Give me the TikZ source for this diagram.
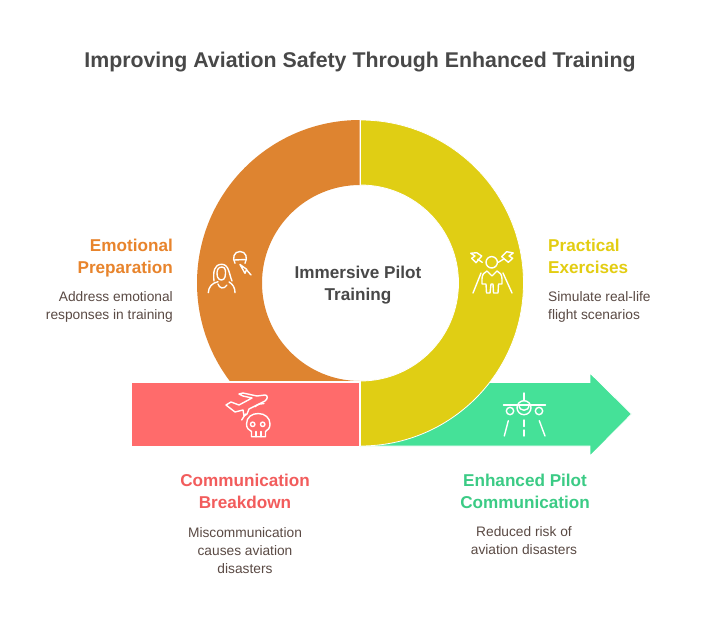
\documentclass[tikz,border=0pt]{standalone}
\usepackage{fontspec}
\setmainfont{Liberation Sans}
\definecolor{cOrange}{HTML}{DE8430}
\definecolor{cYellow}{HTML}{E0CE14}
\definecolor{cRed}{HTML}{FF6B6B}
\definecolor{cGreen}{HTML}{45E198}
\definecolor{tOrange}{HTML}{E8842C}
\definecolor{tYellow}{HTML}{E3CD12}
\definecolor{tRed}{HTML}{F25C5C}
\definecolor{tGreen}{HTML}{3BCB85}
\definecolor{tDark}{HTML}{484848}
\definecolor{tDesc}{HTML}{5A4A44}
\tikzset{
 titlet/.style={font=\bfseries\fontsize{21.4}{26}\selectfont,text=tDark,inner sep=0pt},
 headt/.style={font=\bfseries\fontsize{17.2}{22}\selectfont,inner sep=0pt},
 desct/.style={font=\fontsize{13.8}{18}\selectfont,text=tDesc,inner sep=0pt},
 icon/.style={draw=white,line width=1.4pt,line cap=round,line join=round,fill=none},
 shapeedge/.style={draw=white,line width=0.8pt,line join=miter},
}
\begin{document}
\begin{tikzpicture}[x=1bp,y=-1bp]
\useasboundingbox (0,0) rectangle (720,622);
\fill[white] (0,0) rectangle (720,622);
\node[titlet] (title) at (360,62) {Improving Aviation Safety Through Enhanced Training};
% orange half ring
\begin{scope}
\clip (100,100) rectangle (359.5,380.5);
\fill[cOrange,even odd rule] (360,283) circle[radius=163] (360,283) circle[radius=98];
\end{scope}
% green arrow
\fill[cGreen,shapeedge] (340,382.5) -- (590,382.5) -- (590,373) -- (631.5,414) -- (590,456) -- (590,446) -- (340,446) -- cycle;
% red bar
\fill[cRed,shapeedge] (131,382) rectangle (359.5,446);
% yellow half ring
\fill[cYellow,shapeedge] (360.5,120) arc[start angle=-90,end angle=90,radius=163] -- (360.5,381) arc[start angle=90,end angle=-90,radius=98] -- cycle;
% centre
\node[headt,text=tDark,align=center] (centre) at (358,285) {Immersive Pilot\\Training};
% texts
\node[headt,text=tOrange,align=right,anchor=east] (h1) at (173,258) {Emotional\\Preparation};
\node[desct,align=right,anchor=east] (d1) at (173,306.5) {Address emotional\\responses in training};
\node[headt,text=tYellow,align=left,anchor=west] (h2) at (548,256.5) {Practical\\Exercises};
\node[desct,align=left,anchor=west] (d2) at (548,306.5) {Simulate real-life\\flight scenarios};
\node[headt,text=tRed,align=center] (h3) at (245,491.5) {Communication\\Breakdown};
\node[desct,align=center] (d3) at (245,550.5) {Miscommunication\\causes aviation\\disasters};
\node[headt,text=tGreen,align=center] (h4) at (525,491.5) {Enhanced Pilot\\Communication};
\node[desct,align=center] (d4) at (524,541) {Reduced risk of\\aviation disasters};
% icon: emotional
\begin{scope}
\draw[icon] (208.3,292.7) .. controls (208.5,287) and (212,283) .. (218,281.7) (235,292.7) .. controls (235,288) and (233,284) .. (229,282);
\draw[icon] (218,284) .. controls (219,288) and (224,290) .. (227,285);
\draw[icon] (214,281) .. controls (213,272) and (214,264.3) .. (221.7,264.3) .. controls (229,264.3) and (229,274) .. (232,281);
\draw[icon] (217.5,277) .. controls (216,270) and (218,267) .. (222,267) .. controls (226,267) and (226,272) .. (225,277) .. controls (224,281) and (219,281) .. (217.5,277);
\draw[icon] (235,263.3) .. controls (232,258) and (234,251.5) .. (240,251.5) .. controls (246,251.5) and (248,258) .. (245,263.3);
\draw[icon] (234,260) -- (246,259.5);
\draw[icon] (240,264.5) -- (245,273.3) -- (246.7,269.3) -- cycle;
\draw[icon] (246.7,270) -- (251,275);
\end{scope}
% icon: practical
\begin{scope}
\draw[icon] (491.7,262.3) circle[radius=5.7];
\draw[icon] (487,271) -- (492,276) -- (497,271) .. controls (500,272) and (502,275) .. (502,279) -- (502,284) -- (498.5,284) -- (498,293) -- (493.5,293) -- (493,284) -- (491,284) -- (490,293) -- (486.5,293) -- (486,284) -- (482,284) -- (482,279) .. controls (482,275) and (484,272) .. (487,271);
\draw[icon] (473,293) -- (481,273);
\draw[icon] (512,293) -- (503,273);
\draw[icon] (470.7,253.3) -- (476.7,252.7) -- (481.7,256) -- (476,262.7) -- (471.7,258.3) -- (475,256) -- cycle;
\draw[icon] (477.7,259.3) -- (482.3,262.3);
\draw[icon] (513.3,253) -- (506.7,251.7) -- (501.7,256.7) -- (508.3,262.3) -- (512.7,258.3) -- (509,256) -- cycle;
\draw[icon] (503.3,259.3) -- (498.3,262.3);
\end{scope}
% icon: plane and skull
\begin{scope}
\draw[icon] (226,405) -- (231,402) -- (239,405) -- (252,398) -- (243,396) -- (239,394) -- (243,393) -- (257,396) -- (265,395) .. controls (268,395) and (268,399) .. (265,401) -- (249,409) -- (247,414) -- (244,416) -- (243,410) -- (235,412) -- (226,405);
\draw[icon] (241.7,420) -- (245.5,414);
\draw[icon] (255,406.7) .. controls (258,404) and (261,403.5) .. (264,403.5);
\draw[icon] (246.5,424) .. controls (246.5,417) and (252,413.5) .. (258.3,413.5) .. controls (265,413.5) and (270,418) .. (270,424) .. controls (270,428) and (268,430) .. (265.5,431.5) -- (265.5,436.7) -- (251.5,436.7) -- (251.5,431.5) .. controls (248.5,430) and (246.5,428) .. (246.5,424);
\draw[icon] (252.7,424.3) circle[radius=2.2] (262.7,424.3) circle[radius=2.2];
\draw[icon] (256,436.7) -- (256,431.5) (261,436.7) -- (261,431.5);
\end{scope}
% icon: runway plane
\begin{scope}
\draw[icon] (524,393) -- (524,400.7);
\draw[icon] (503.5,405) -- (545.5,405);
\draw[icon] (524,407.7) circle[radius=7];
\draw[icon] (519,405) .. controls (519,412) and (529,412) .. (529,405);
\draw[icon] (510,411) circle[radius=3.7];
\draw[icon] (539,411) circle[radius=3.7];
\draw[icon] (508.3,420.7) -- (504.3,436);
\draw[icon] (539.3,420.7) -- (545,436);
\draw[icon] (524,420) -- (524,426.5) (524,430) -- (524,436);
\end{scope}
\end{tikzpicture}
\end{document}
